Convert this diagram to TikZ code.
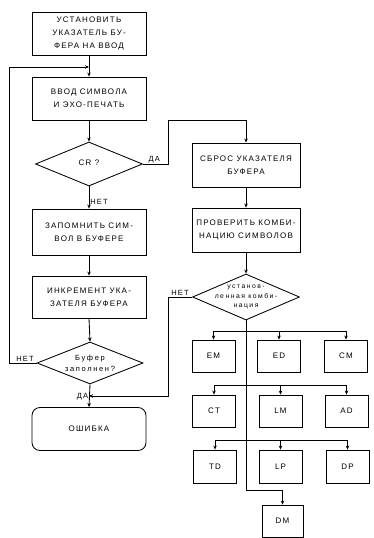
\documentclass[tikz,border=0pt]{standalone}
\usepackage{fontspec}
\setmainfont{Liberation Sans}
\newfontfamily\lab[LetterSpace=15]{Liberation Sans}
\newfontfamily\labw[LetterSpace=22]{Liberation Sans}
\usetikzlibrary{shapes.geometric,arrows.meta}
\begin{document}
\begin{tikzpicture}[x=1pt,y=-1pt,
  every node/.style={font=\lab\fontsize{8}{13}\selectfont, align=center},
  box/.style={draw, line width=0.85pt, inner sep=0pt},
  big/.style={box, minimum width=114pt, minimum height=43pt},
  mid/.style={box, minimum width=108pt, minimum height=44pt},
  sm/.style={box, minimum width=43pt, minimum height=32pt},
  dia/.style={draw, line width=0.85pt, diamond, inner sep=0pt, minimum width=107pt, minimum height=44pt},
  ln/.style={line width=0.85pt},
  ar/.style={ln, -{Stealth[length=4pt,width=3.5pt]}},
  lbl/.style={inner sep=1pt, font=\lab\fontsize{7.5}{8}\selectfont}]
\useasboundingbox (0,0) rectangle (374,538);
% left column
\node[big] (b1) at (89,33.5) {УСТАНОВИТЬ\\УКАЗАТЕЛЬ БУ-\\ФЕРА НА ВВОД};
\node[big] (b2) at (89,98.5) {ВВОД СИМВОЛА\\И ЭХО-ПЕЧАТЬ};
\node[dia] (d1) at (89,164) {};
\node (t1) at (89,163) {CR ?};
\node[big, minimum height=46pt] (b3) at (89,232) {ЗАПОМНИТЬ СИМ-\\ВОЛ В БУФЕРЕ};
\node[big, minimum height=42pt] (b4) at (89,297) {ИНКРЕМЕНТ УКА-\\ЗАТЕЛЯ БУФЕРА};
\node[dia, minimum width=106pt, minimum height=42pt] (d2) at (90,363) {};
\node[font=\labw\fontsize{7.5}{11}\selectfont] (t2) at (90,363) {Буфер\\заполнен?};
\node[big, rounded corners=8pt] (b5) at (89,429) {ОШИБКА};
% right column
\node[mid] (r1) at (246,165) {СБРОС УКАЗАТЕЛЯ\\БУФЕРА};
\node[mid] (r2) at (246,230) {ПРОВЕРИТЬ КОМБИ-\\НАЦИЮ СИМВОЛОВ};
\node[dia, minimum width=107pt, minimum height=46pt] (d3) at (246,297) {};
\node[font=\labw\fontsize{6.8}{9.5}\selectfont] (t3) at (246,297) {установ-\\ленная комби-\\нация};
\node[sm] (em) at (213.5,356) {EM};
\node[sm] (ed) at (279,356) {ED};
\node[sm] (cm) at (346,356) {CM};
\node[sm] (ct) at (214,411) {CT};
\node[sm] (lm) at (280.5,411) {LM};
\node[sm] (ad) at (346.5,411) {AD};
\node[sm, minimum height=33pt] (td) at (215,466.5) {TD};
\node[sm, minimum height=33pt] (lp) at (280.5,466.5) {LP};
\node[sm, minimum height=33pt] (dp) at (347.5,466.5) {DP};
\node[sm, minimum width=41pt] (dm) at (282.5,521) {DM};
% junctions
\coordinate (j1) at (89,67);
\coordinate (j2) at (89,396);
\coordinate (k1) at (168,120);
\coordinate (k2) at (168,297);
\coordinate (k3) at (246,490);
\coordinate (bus1) at (246,331);
\coordinate (bus2) at (246,385);
\coordinate (bus3) at (246,440);
% left connectors
\draw[ar] (b1.south) -- (b2.north);
\draw[ar] (d2.west) -- ++(-27,0) |- (j1);
\draw[ar] (b2.south) -- (d1.north);
\draw[ar] (d1.south) -- node[lbl, right, pos=0.7] {НЕТ} (b3.north);
\draw[ar] (b3.south) -- (b4.north);
\draw[ar] (b4.south) -- (d2.north);
\draw[ar] (d2.south) -- node[lbl, left, pos=0.55] {ДА} (b5.north);
\node[lbl, above] (nl) at (25,363) {НЕТ};
\draw[ar] (d1.east) -- node[lbl, above, pos=0.45] {ДА} (d1.east -| k1) |- (k1 -| r1.north) -- (r1.north);
% right connectors
\draw[ar] (r1.south) -- (r2.north);
\draw[ar] (r2.south) -- (d3.north);
\draw[ar] (d3.west) -- node[lbl, above, pos=0.5] {НЕТ} (k2) |- (j2);
\draw[ar] (d3.south) -- (k3) -| (dm.north);
\draw[ln] (em.north |- bus1) -- (cm.north |- bus1);
\draw[ar] (em.north |- bus1) -- (em.north);
\draw[ar] (ed.north |- bus1) -- (ed.north);
\draw[ar] (cm.north |- bus1) -- (cm.north);
\draw[ln] (ct.north |- bus2) -- (ad.north |- bus2);
\draw[ar] (ct.north |- bus2) -- (ct.north);
\draw[ar] (lm.north |- bus2) -- (lm.north);
\draw[ar] (ad.north |- bus2) -- (ad.north);
\draw[ln] (td.north |- bus3) -- (dp.north |- bus3);
\draw[ar] (td.north |- bus3) -- (td.north);
\draw[ar] (lp.north |- bus3) -- (lp.north);
\draw[ar] (dp.north |- bus3) -- (dp.north);
\end{tikzpicture}
\end{document}
